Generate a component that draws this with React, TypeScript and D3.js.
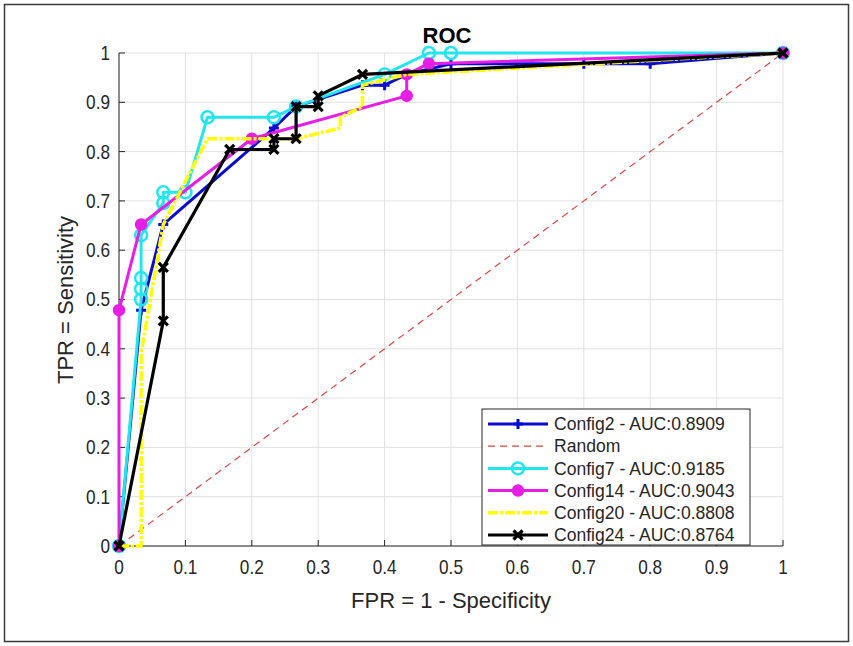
import React from "react";
import * as d3 from "d3";

const W = 853;
const H = 646;

// Tick values and their labels
const tickValues = [0, 0.1, 0.2, 0.3, 0.4, 0.5, 0.6, 0.7, 0.8, 0.9, 1];
const tickLabels = ["0", "0.1", "0.2", "0.3", "0.4", "0.5", "0.6", "0.7", "0.8", "0.9", "1"];

// ROC curves (FPR, TPR) per configuration
const config2FPR = [0, 0.0333, 0.0667, 0.2333, 0.2667, 0.3667, 0.4, 0.4333, 0.5, 0.7, 0.8, 1];
const config2TPR = [0, 0.4783, 0.6522, 0.8478, 0.8913, 0.9348, 0.9348, 0.9565, 0.9783, 0.9783, 0.9783, 1];

const config7FPR = [0, 0.0333, 0.0333, 0.0333, 0.0333, 0.0667, 0.0667, 0.1, 0.1333, 0.2333, 0.2667, 0.4, 0.4667, 0.5, 1];
const config7TPR = [0, 0.5, 0.5217, 0.5435, 0.6304, 0.6957, 0.7174, 0.7174, 0.8696, 0.8696, 0.8913, 0.9565, 1, 1, 1];

const config14FPR = [0, 0, 0.0333, 0.2, 0.4333, 0.4333, 0.4667, 1];
const config14TPR = [0, 0.4783, 0.6522, 0.8261, 0.913, 0.9565, 0.9783, 1];

const config20FPR = [0, 0.0333, 0.0333, 0.0667, 0.1333, 0.2667, 0.3333, 0.3333, 0.3667, 0.3667, 0.4333, 1];
const config20TPR = [0, 0, 0.3913, 0.6522, 0.8261, 0.8261, 0.8478, 0.8696, 0.8913, 0.9348, 0.9565, 1];

const config24FPR = [0, 0.0667, 0.0667, 0.1667, 0.2333, 0.2333, 0.2667, 0.2667, 0.3, 0.3, 0.3667, 1];
const config24TPR = [0, 0.4565, 0.5652, 0.8043, 0.8043, 0.8261, 0.8261, 0.8913, 0.8913, 0.913, 0.9565, 1];

const randomFPR = [0, 1];
const randomTPR = [0, 1];

const legendLabels = [
  "Config2 - AUC:0.8909",
  "Random",
  "Config7 - AUC:0.9185",
  "Config14 - AUC:0.9043",
  "Config20 - AUC:0.8808",
  "Config24 - AUC:0.8764",
];

type Marker = "plus" | "circle" | "dot" | "cross" | "none";
interface Series {
  fpr: number[];
  tpr: number[];
  color: string;
  width: number;
  dash?: string;
  marker: Marker;
}

const series: Series[] = [
  { fpr: config2FPR, tpr: config2TPR, color: "#0a0ad2", width: 3, marker: "plus" },
  { fpr: randomFPR, tpr: randomTPR, color: "#d94848", width: 1.2, dash: "7,5", marker: "none" },
  { fpr: config7FPR, tpr: config7TPR, color: "#22e6ee", width: 3, marker: "circle" },
  { fpr: config14FPR, tpr: config14TPR, color: "#e61ee6", width: 3, marker: "dot" },
  { fpr: config20FPR, tpr: config20TPR, color: "#ffff00", width: 3.5, dash: "10,2,3,2", marker: "none" },
  { fpr: config24FPR, tpr: config24TPR, color: "#000000", width: 3.2, marker: "cross" },
];

const FONT = "'Liberation Sans', Arial, Helvetica, sans-serif";

const x = d3.scaleLinear().domain([0, 1]).range([119, 783]);
const y = d3.scaleLinear().domain([0, 1]).range([546, 53]);

function Txt(props: {
  x: number;
  y: number;
  size: number;
  sx?: number;
  anchor?: string;
  weight?: string;
  rotate?: number;
  fill?: string;
  children: React.ReactNode;
}) {
  const { size, sx = 0.86, anchor = "start", weight = "normal", rotate = 0, fill = "#262626" } = props;
  return (
    <text
      transform={`translate(${props.x},${props.y}) rotate(${rotate}) scale(${sx},1)`}
      fontFamily={FONT}
      fontSize={size}
      fontWeight={weight}
      textAnchor={anchor}
      dominantBaseline="central"
      fill={fill}
    >
      {props.children}
    </text>
  );
}

function MarkerShape({ kind, cx, cy, color }: { kind: Marker; cx: number; cy: number; color: string }) {
  if (kind === "plus") {
    const r = 5;
    return (
      <path
        d={`M${cx - r},${cy}H${cx + r}M${cx},${cy - r}V${cy + r}`}
        stroke={color}
        strokeWidth={3}
        fill="none"
      />
    );
  }
  if (kind === "circle") {
    return <circle cx={cx} cy={cy} r={6} fill="none" stroke={color} strokeWidth={2.5} />;
  }
  if (kind === "dot") {
    return <circle cx={cx} cy={cy} r={5.5} fill={color} stroke={color} strokeWidth={1.5} />;
  }
  if (kind === "cross") {
    const r = 4.5;
    return (
      <path
        d={`M${cx - r},${cy - r}L${cx + r},${cy + r}M${cx - r},${cy + r}L${cx + r},${cy - r}`}
        stroke={color}
        strokeWidth={3.2}
        fill="none"
      />
    );
  }
  return null;
}

export default function App() {
  const line = d3
    .line<[number, number]>()
    .x((d) => x(d[0]))
    .y((d) => y(d[1]));

  const legend = { x0: 482, y0: 409, x1: 750, y1: 545, rowY: 424, rowStep: 22.2 };

  return (
    <svg
      width={W}
      height={H}
      style={{ position: "absolute", left: 0, top: 0, background: "#fff" }}
    >
      <rect x={0} y={0} width={W} height={H} fill="#fff" />
      <rect x={4.5} y={4.5} width={844} height={637} fill="none" stroke="#3a3a3a" strokeWidth={1.5} />

      {/* grid */}
      {tickValues.map((t, i) => (
        <g key={"g" + i}>
          <line x1={x(t)} x2={x(t)} y1={y(0)} y2={y(1)} stroke="#e2e2e2" strokeWidth={1} />
          <line x1={x(0)} x2={x(1)} y1={y(t)} y2={y(t)} stroke="#e2e2e2" strokeWidth={1} />
        </g>
      ))}

      {/* axes */}
      <line x1={x(0)} x2={x(1)} y1={y(0)} y2={y(0)} stroke="#262626" strokeWidth={1} />
      <line x1={x(0)} x2={x(0)} y1={y(0)} y2={y(1)} stroke="#262626" strokeWidth={1} />
      {tickValues.map((t, i) => (
        <g key={"t" + i}>
          <line x1={x(t)} x2={x(t)} y1={y(0)} y2={y(0) - 6} stroke="#262626" strokeWidth={1} />
          <line x1={x(0)} x2={x(0) + 6} y1={y(t)} y2={y(t)} stroke="#262626" strokeWidth={1} />
          <Txt x={x(t)} y={y(0) + 21} size={20} anchor="middle">
            {tickLabels[i]}
          </Txt>
          <Txt x={x(0) - 9} y={y(t)} size={20} anchor="end">
            {tickLabels[i]}
          </Txt>
        </g>
      ))}

      {/* curves */}
      {series.map((s, i) => {
        const pts: [number, number][] = s.fpr.map((f, j) => [f, s.tpr[j]]);
        return (
          <g key={"s" + i}>
            <path
              d={line(pts) || ""}
              fill="none"
              stroke={s.color}
              strokeWidth={s.width}
              strokeDasharray={s.dash}
              strokeLinejoin="round"
            />
            {pts.map((p, j) => (
              <MarkerShape key={j} kind={s.marker} cx={x(p[0])} cy={y(p[1])} color={s.color} />
            ))}
          </g>
        );
      })}

      {/* titles */}
      <Txt x={447} y={35} size={22} sx={1} anchor="middle" weight="bold" fill="#000">
        ROC
      </Txt>
      <Txt x={451} y={600} size={22} sx={1} anchor="middle">
        FPR = 1 - Specificity
      </Txt>
      <Txt x={65} y={300} size={22} sx={1} anchor="middle" rotate={-90}>
        TPR = Sensitivity
      </Txt>

      {/* legend */}
      <rect
        x={legend.x0}
        y={legend.y0}
        width={legend.x1 - legend.x0}
        height={legend.y1 - legend.y0}
        fill="#fff"
        stroke="#262626"
        strokeWidth={1}
      />
      {series.map((s, i) => {
        const cy = legend.rowY + i * legend.rowStep;
        return (
          <g key={"l" + i}>
            <line
              x1={488}
              x2={548}
              y1={cy}
              y2={cy}
              stroke={s.color}
              strokeWidth={s.width}
              strokeDasharray={s.dash}
            />
            <MarkerShape kind={s.marker} cx={518} cy={cy} color={s.color} />
            <Txt x={554} y={cy} size={18.5} sx={0.95}>
              {legendLabels[i]}
            </Txt>
          </g>
        );
      })}
    </svg>
  );
}
